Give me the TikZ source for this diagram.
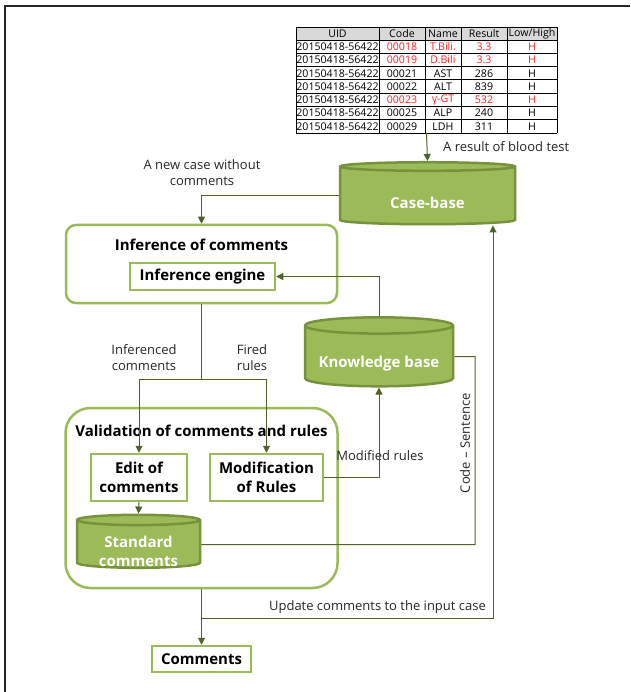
\documentclass[tikz,border=0pt]{standalone}
\usepackage{fontspec}
\setmainfont{Open Sans}
\usetikzlibrary{arrows.meta,positioning,calc,shapes.geometric}
\definecolor{boxgreen}{HTML}{9BBB59}
\definecolor{dbedge}{HTML}{76923C}
\definecolor{linegreen}{HTML}{4F6228}
\definecolor{hdrgray}{HTML}{D9D9D9}
\definecolor{labelgray}{HTML}{262626}
\definecolor{tblred}{HTML}{FF2020}
\newcommand{\dbgap}{\rule{0pt}{25pt}}

\begin{document}
\begin{tikzpicture}[x=1pt, y=-1pt, >={Triangle[length=7pt,width=7pt]},
    box/.style = {draw=boxgreen, line width=2.5pt, fill=white, inner sep=0pt, align=center, font=\fontsize{15}{18.5}\selectfont\bfseries},
    group/.style = {draw=boxgreen, line width=2.5pt, rounded corners=10pt, inner sep=0pt},
    title/.style = {inner sep=0pt, font=\fontsize{15}{18}\selectfont\bfseries},
    db/.style = {cylinder, shape border rotate=90, draw=dbedge, fill=boxgreen, line width=2.5pt, inner sep=0pt, inner ysep=-7pt,
        text=white, align=center, font=\fontsize{15}{18.5}\selectfont\bfseries},
    lbl/.style = {text=labelgray, inner sep=0pt, align=center, font=\fontsize{13}{16}\selectfont},
    cell/.style = {inner sep=0pt, font=\fontsize{10.6}{12}\selectfont},
    flow/.style = {draw=linegreen, line width=1pt}]
    \useasboundingbox (0,0) rectangle (630,692);

    % Frame
    \draw[line width=2pt, black!85] (5,692) -- (5,6) -- (630,6);

    % Blood test table
    \fill[hdrgray] (296,27) rectangle (557,40);
    \foreach \y in {27,40,53.3,66.6,79.9,93.2,106.5,119.8,133}
        \draw[line width=0.8pt] (296,\y) -- (557,\y);
    \foreach \x in {296,379,425,461,507,557}
        \draw[line width=0.8pt] (\x,27) -- (\x,133);
    \node[inner sep=0pt, minimum width=261, minimum height=106] (bloodtest) at (426.5,80) {};
    \node[cell] (hd1) at (337.5,33.5) {UID};
    \node[cell] (hd2) at (402,33.5) {Code};
    \node[cell] (hd3) at (443,33.5) {Name};
    \node[cell] (hd4) at (484,33.5) {Result};
    \node[cell] (hd5) at (532,33.5) {Low/High};
    \foreach \code/\name/\res/\clr [count=\r] in {00018/T.Bili./3.3/tblred, 00019/D.Bili/3.3/tblred,
        00021/AST/286/black, 00022/ALT/839/black, 00023/γ-GT/532/tblred, 00025/ALP/240/black, 00029/LDH/311/black}{
        \pgfmathsetmacro\yy{46.7+13.3*(\r-1)}
        \node[cell] (uid\r) at (337.5,\yy) {20150418-56422};
        \node[cell, text=\clr] (code\r) at (402,\yy) {\code};
        \node[cell, text=\clr] (name\r) at (443,\yy) {\name};
        \node[cell, text=\clr] (res\r) at (484,\yy) {\res};
        \node[cell, text=\clr] (lh\r) at (532,\yy) {H};
    }

    % Stores
    \node[db, minimum width=175, minimum height=62, aspect=0.115] (casebase) at (427.5,196) {\dbgap Case-base};
    \node[db, minimum width=148, minimum height=69, aspect=0.135] (kb) at (379,356.5) {\dbgap Knowledge base};

    % Inference part
    \node[group, minimum width=271, minimum height=78] (inferbox) at (201.5,264) {};
    \node[title] (infertitle) at (201.5,245) {Inference of comments};
    \node[box, minimum width=145, minimum height=27] (engine) at (202.5,276.5) {Inference engine};

    % Validation part
    \node[group, rounded corners=25pt, minimum width=272, minimum height=180] (validbox) at (201.5,498) {};
    \node[title] (validtitle) at (201.5,431) {Validation of comments and rules};
    \node[box, minimum width=96, minimum height=47] (edit) at (139,477.5) {Edit of\\comments};
    \node[box, minimum width=113, minimum height=47] (modif) at (266.5,477.5) {Modification\\of Rules};
    \node[db, minimum width=123, minimum height=53, aspect=0.13] (stdcom) at (138.5,544.5) {\dbgap Standard\\comments};

    % Output
    \node[box, minimum width=99, minimum height=26] (comments) at (201.5,659) {Comments};

    % Labels
    \node[lbl, anchor=west] (bloodlbl) at (443,147) {A result of blood test};
    \node[lbl] (newcase) at (202,173) {A new case without\\comments};
    \node[lbl] (inflbl) at (144,358) {Inferenced\\comments};
    \node[lbl] (firedlbl) at (252,358) {Fired\\rules};
    \node[lbl] (modlbl) at (380,456) {Modified rules};
    \node[lbl, rotate=90] (cslbl) at (465,443) {Code – Sentence};
    \node[lbl, anchor=east] (updlbl) at (486,607) {Update comments to the input case};

    % Connectors
    \coordinate (split) at (201.5,379);
    \coordinate (cscorner) at (475,544.5);
    \coordinate (updcorner) at (493,618);
    \draw[flow, ->] (bloodtest.south) -- (casebase.north);
    \draw[flow, ->] (casebase.west) -| (inferbox.north);
    \draw[flow] (inferbox.south) -- (split);
    \draw[flow, ->] (split) -| (edit.north);
    \draw[flow, ->] (split) -| (modif.north);
    \draw[flow, ->] (kb.north) |- (engine.east);
    \draw[flow, ->] (modif.east) -| (kb.south);
    \draw[flow, ->] (edit.south) -- (stdcom.north);
    \draw[flow] (kb.east) -| (cscorner) -- (stdcom.east);
    \draw[flow, ->] (validbox.south) -- (comments.north);
    \draw[flow, ->] (validbox.south |- updcorner) -- (updcorner) -- (updcorner |- casebase.south);
\end{tikzpicture}
\end{document}
